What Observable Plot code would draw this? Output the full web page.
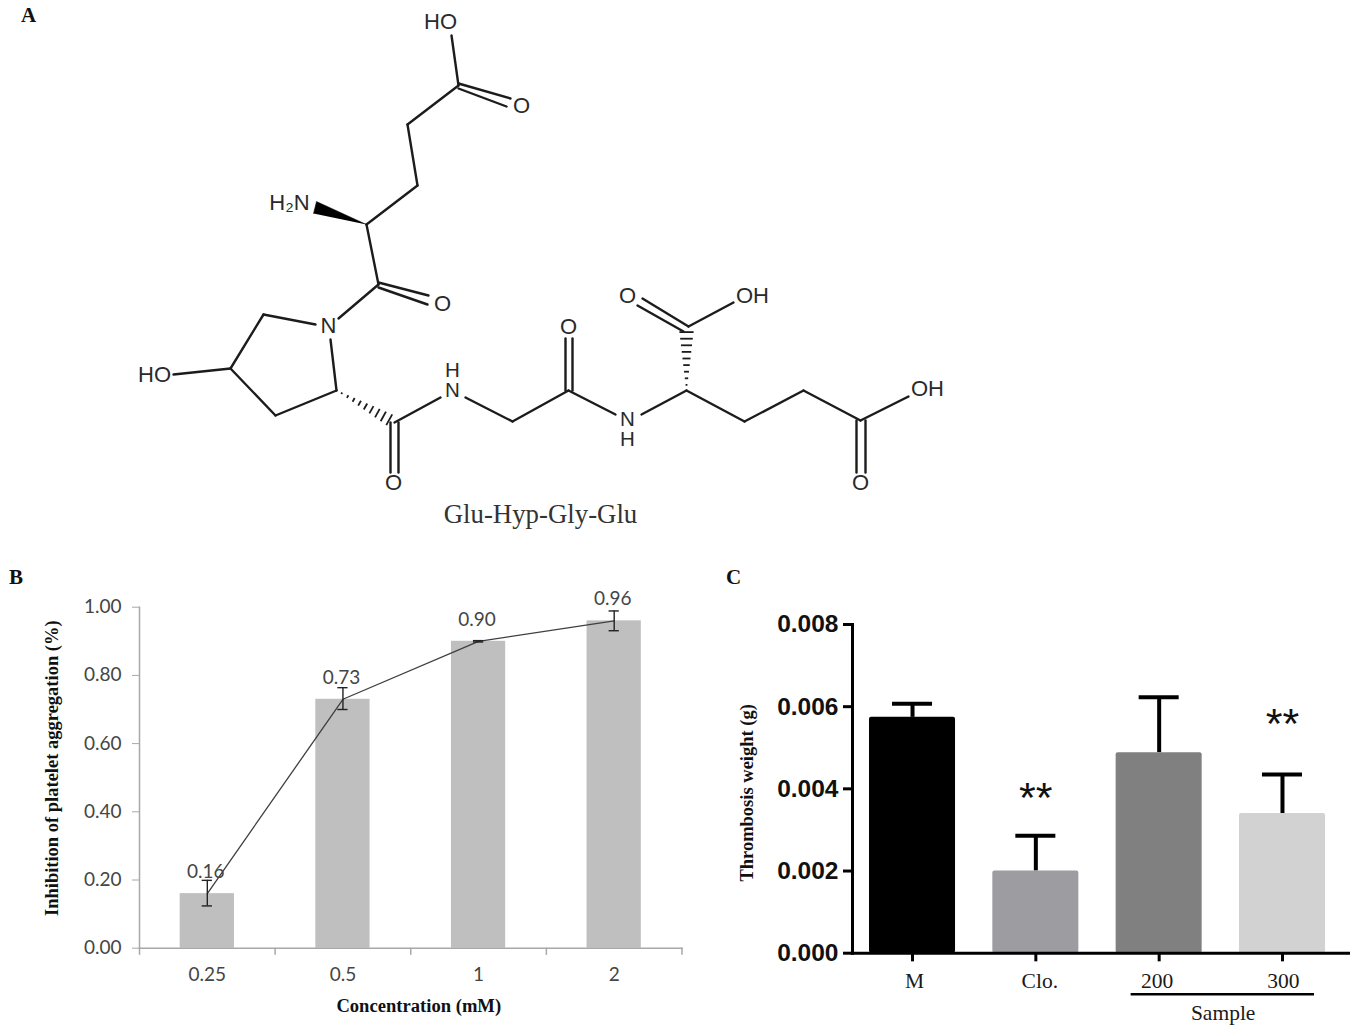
<!DOCTYPE html>
<html>
<head>
<meta charset="utf-8">
<script src="https://cdn.jsdelivr.net/npm/d3@7"></script>
<script src="https://cdn.jsdelivr.net/npm/@observablehq/plot@0.6"></script>
<style>
  html, body { margin: 0; padding: 0; background: #fff; }
  #page { position: relative; width: 1355px; height: 1036px; overflow: hidden; }
  #page svg { position: absolute; background: transparent; overflow: visible; }
  .letter { position: absolute; font: bold 21px "Liberation Serif", serif; color: #111; line-height: 1; }
</style>
</head>
<body>
<div id="page">
  <div class="letter" style="left:21px;top:5px">A</div>
  <div class="letter" style="left:9px;top:567px">B</div>
  <div class="letter" style="left:726px;top:567px">C</div>
</div>
<script>
// ---- Panel A: molecule (atom labels and bonds) ----
const moleculeName = "Glu-Hyp-Gly-Glu";
const atomLabels = [
  ["HO", 440, 21], ["O", 521, 105], ["H\u2082N", 289, 202], ["O", 442, 303],
  ["N", 328, 325], ["HO", 154, 374], ["O", 393, 482],
  ["O", 568, 326],
  ["O", 627, 295], ["OH", 752, 295], ["OH", 927, 388], ["O", 860, 482]
];
const amideLabels = [["H\nN", 452, 380], ["N\nH", 627, 429]];
const bonds = [
  [451, 35, 458, 85], [458, 83, 510, 98], [458, 88, 506, 106], [458, 85, 407, 124],
  [407, 124, 417, 185], [417, 185, 366, 224], [366, 224, 378, 284],
  [378, 282, 428, 295], [378, 287, 427, 304], [378, 284, 338, 318],
  [315, 324, 263, 314], [263, 314, 230, 368], [230, 368, 275, 415],
  [275, 415, 336, 390], [336, 390, 330, 339], [173, 374, 230, 368],
  [390, 422, 390, 472], [398, 422, 398, 472], [394, 422, 440, 397],
  [465, 397, 512, 421], [512, 421, 568, 390],
  [565, 390, 565, 338], [572, 390, 572, 338], [568, 390, 615, 414],
  [641, 414, 686, 390], [688, 326, 642, 298], [683, 331, 637, 305],
  [688, 326, 733, 302], [686, 390, 744, 421], [744, 421, 803, 390],
  [803, 390, 860, 420], [860, 420, 908, 396],
  [856, 420, 856, 472], [865, 420, 865, 472]
];
const solidWedge = [[366, 224], [316, 201], [313, 213]];
// narrow end, wide end, half width of the wide end
const hashedWedges = [
  [338, 391, 392, 421, 6],
  [686, 388, 686, 328, 7]
];

// ---- Panel B ----
const concentration = ["0.25", "0.5", "1", "2"];
const inhibition = [0.16, 0.73, 0.90, 0.96];
const inhibitionLow = [0.124, 0.70, 0.898, 0.931];
const inhibitionHigh = [0.199, 0.764, 0.902, 0.989];
const inhibitionTicks = [0, 0.2, 0.4, 0.6, 0.8, 1];

// ---- Panel C ----
const groups = ["M", "Clo.", "200", "300"];
const weight = [0.00574, 0.00200, 0.00488, 0.00340];
const weightHigh = [0.00607, 0.00286, 0.00623, 0.00435];
const groupColors = ["#000000", "#9c9ca1", "#808080", "#d2d2d2"];
const weightTicks = [0, 0.002, 0.004, 0.006, 0.008];
const starGroups = ["Clo.", "300"];
const starHeights = [0.00391, 0.00572];
const labelNudge = [2, 4, -2, 1];

const page = document.getElementById("page");
const place = (svg, left, top) => {
  svg.style.left = left + "px";
  svg.style.top = top + "px";
  svg.style.maxWidth = "none";
  page.appendChild(svg);
};

// hash marks along a stereo bond
const hashes = hashedWedges.flatMap(([x1, y1, x2, y2, w]) => {
  const dx = x2 - x1, dy = y2 - y1, len = Math.hypot(dx, dy);
  const nx = -dy / len, ny = dx / len;
  return [0.06, 0.17, 0.28, 0.39, 0.5, 0.61, 0.72, 0.83, 0.94].map(t => {
    const cx = x1 + dx * t, cy = y1 + dy * t, h = w * t + 0.5;
    return [cx - nx * h, cy - ny * h, cx + nx * h, cy + ny * h];
  });
});

const SANS = "Liberation Sans, Arial, sans-serif";
const SERIF = "Liberation Serif, Times New Roman, serif";

place(Plot.plot({
  width: 1000, height: 540, margin: 0,
  x: {domain: [0, 1000], range: [0, 1000], axis: null},
  y: {domain: [0, 540], range: [0, 540], axis: null},
  marks: [
    Plot.link(bonds, {x1: d => d[0], y1: d => d[1], x2: d => d[2], y2: d => d[3],
      stroke: "#1c1c1c", strokeWidth: 2.4, strokeLinecap: "round"}),
    Plot.link(hashes, {x1: d => d[0], y1: d => d[1], x2: d => d[2], y2: d => d[3],
      stroke: "#1c1c1c", strokeWidth: 1.8}),
    Plot.line(solidWedge, {x: d => d[0], y: d => d[1], fill: "#000", stroke: "#000", strokeWidth: 0.5}),
    Plot.text(atomLabels, {x: d => d[1], y: d => d[2], text: d => d[0],
      fontFamily: SANS, fontSize: 22, fill: "#2a2a2a"}),
    Plot.text(amideLabels, {x: d => d[1], y: d => d[2], text: d => d[0], lineHeight: 1,
      fontFamily: SANS, fontSize: 20.5, fill: "#2a2a2a"}),
    Plot.text([moleculeName], {x: () => 540, y: () => 514, text: d => d,
      fontFamily: SERIF, fontSize: 26.8, fill: "#333"})
  ]
}), 0, 0);

// Panel B
const tableB = concentration.map((c, i) => ({c, v: inhibition[i], lo: inhibitionLow[i], hi: inhibitionHigh[i]}));
const stepB = 135.6;
const greyAxis = "#a8a8a8";
const labelB = "#454545";
place(Plot.plot({
  width: 700, height: 466,
  marginLeft: 139, marginRight: 18.5, marginTop: 36.7, marginBottom: 88.3,
  style: {fontFamily: "Lato, sans-serif"},
  x: {type: "band", domain: concentration, paddingInner: 0.6, paddingOuter: 0.3, round: false, label: null, axis: null},
  y: {domain: [0, 1], label: null, axis: null},
  marks: [
    Plot.barY(tableB, {x: "c", y: "v", fill: "#bfbfbf"}),
    Plot.frame({anchor: "left", stroke: greyAxis, strokeWidth: 1.5}),
    Plot.frame({anchor: "bottom", stroke: greyAxis, strokeWidth: 1.5}),
    Plot.axisY({ticks: inhibitionTicks, tickFormat: d => d.toFixed(2), tickSize: 7, tickPadding: 11,
      stroke: greyAxis, fill: labelB, fontSize: 19, fontFamily: "Lato, sans-serif", label: null}),
    Plot.axisX(concentration, {tickSize: 0, tickPadding: 19, fill: labelB, fontSize: 19,
      fontFamily: "Lato, sans-serif", label: null}),
    Plot.ruleX(concentration, {x: d => d, y1: 0, y2: -0.021, dx: stepB / 2, stroke: greyAxis, strokeWidth: 1.5}),
    Plot.ruleX([concentration[0]], {x: d => d, y1: 0, y2: -0.021, dx: -stepB / 2, stroke: greyAxis, strokeWidth: 1.5}),
    Plot.line(tableB, {x: "c", y: "v", stroke: "#3f3f3f", strokeWidth: 1.3}),
    Plot.ruleX(tableB, {x: "c", y1: "lo", y2: "hi", stroke: "#222", strokeWidth: 1.4}),
    Plot.tickY(tableB, {x: "c", y: "hi", insetLeft: 22, insetRight: 22, stroke: "#222", strokeWidth: 1.4}),
    Plot.tickY(tableB, {x: "c", y: "lo", insetLeft: 22, insetRight: 22, stroke: "#222", strokeWidth: 1.4}),
    Plot.text(tableB, {x: "c", y: "v", text: d => d.v.toFixed(2), dy: -21.5, dx: -1.5,
      fontFamily: "Lato, sans-serif", fontSize: 19, fill: labelB}),
    Plot.text(["Inhibition of platelet aggregation (%)"], {frameAnchor: "left", textAnchor: "middle", rotate: -90, dx: -87, dy: -9.5,
      fontFamily: SERIF, fontWeight: "bold", fontSize: 18.5, fill: "#111"}),
    Plot.text(["Concentration (mM)"], {frameAnchor: "bottom", dx: 8, dy: 64,
      fontFamily: SERIF, fontWeight: "bold", fontSize: 18.6, fill: "#111"})
  ]
}), 0, 570);

// Panel C
const tableC = groups.map((g, i) => ({g, v: weight[i], hi: weightHigh[i], color: groupColors[i]}));
place(Plot.plot({
  width: 635, height: 446,
  marginLeft: 132, marginRight: 7, marginTop: 34, marginBottom: 83.3,
  x: {type: "band", domain: groups, range: [132, 622], paddingInner: 0.3025, paddingOuter: 0.138, round: false, axis: null},
  y: {domain: [0, 0.008], axis: null},
  marks: [
    Plot.ruleX(tableC, {x: "g", y1: "v", y2: "hi", stroke: "#000", strokeWidth: 4}),
    Plot.tickY(tableC, {x: "g", y: "hi", insetLeft: 23, insetRight: 23, stroke: "#000", strokeWidth: 4}),
    Plot.barY(tableC, {x: "g", y: "v", fill: "color", r: 2}),
    Plot.frame({anchor: "left", stroke: "#000", strokeWidth: 3}),
    Plot.frame({anchor: "bottom", stroke: "#000", strokeWidth: 3}),
    Plot.axisY({ticks: weightTicks, tickFormat: d => d.toFixed(3), tickSize: 9, tickPadding: 5,
      stroke: "#000", strokeWidth: 3, fill: "#111", fontSize: 24.5, fontWeight: "bold", fontFamily: SANS, label: null}),
    Plot.ruleX(groups, {x: d => d, y1: 0, y2: -0.00021, stroke: "#000", strokeWidth: 3}),
    ...groups.map((g, i) => Plot.text([g], {x: d => d, y: () => -0.00069, dx: labelNudge[i],
      fontFamily: SERIF, fontSize: 21.5, fill: "#1a1a1a"})),
    Plot.text(starGroups, {x: d => d, y: (d, i) => starHeights[i], text: () => "**", dy: 6,
      fontFamily: SANS, fontSize: 43, fill: "#111"}),
    Plot.ruleY([-0.001], {x1: () => "200", x2: () => "300", insetLeft: 15, insetRight: 11, stroke: "#000", strokeWidth: 2.5}),
    Plot.text(["Sample"], {x: () => "200", y: () => -0.00147, dx: 64,
      fontFamily: SERIF, fontSize: 21.5, fill: "#1a1a1a"}),
    Plot.text(["Thrombosis weight (g)"], {frameAnchor: "left", textAnchor: "middle", rotate: -90, dx: -105, dy: 4,
      fontFamily: SERIF, fontWeight: "bold", fontSize: 18.5, fill: "#111"})
  ]
}), 720, 590);
</script>
</body>
</html>
